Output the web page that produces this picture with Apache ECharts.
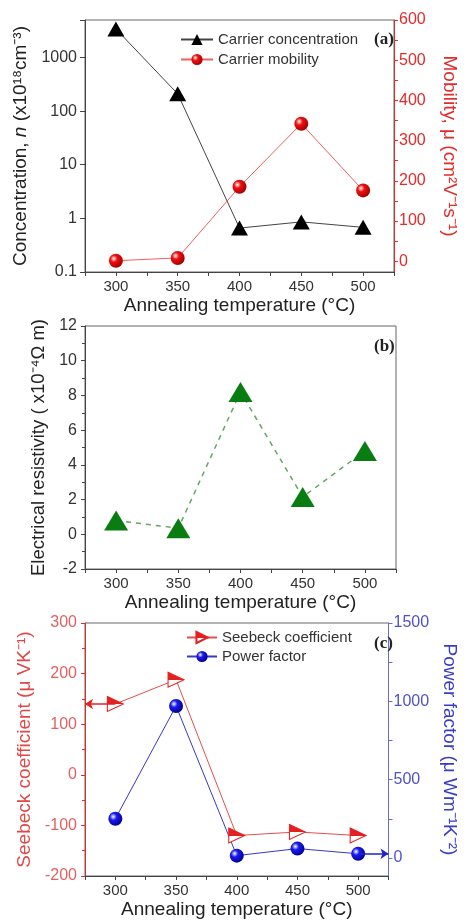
<!DOCTYPE html>
<html>
<head>
<meta charset="utf-8">
<script src="https://cdn.jsdelivr.net/npm/echarts@6/dist/echarts.min.js"></script>
<style>
  body { margin: 0; background: #fff; }
  #chart { width: 467px; height: 920px; }
</style>
</head>
<body>
<div id="chart"></div>
<script>
// annealing temperatures (°C)
var temps = [300, 350, 400, 450, 500];
// (a) carrier concentration (x10^18 cm^-3) and mobility (cm2/Vs)
var concentration = [3400, 210, 0.66, 0.86, 0.68];
var mobility = [1, 8, 185, 342, 176];
// (b) electrical resistivity (x10^-4 ohm m)
var resistivity = [0.8, 0.35, 8.2, 2.15, 4.8];
// (c) seebeck coefficient (uV/K) and power factor (uW/mK2)
var seebeck = [140, 188, -120, -113, -120];
var powerFactor = [250, 970, 15, 60, 27];

var logLabels = [0.1, 1, 10, 100, 1000];
var mobilityLabels = [0, 100, 200, 300, 400, 500, 600];
var pfLabels = [0, 500, 1000, 1500];

function pairs(ys) {
  return temps.map(function (t, i) { return [t, ys[i]]; });
}
function ball(c, dark) {
  return {
    type: 'radial', x: 0.35, y: 0.35, r: 0.7,
    colorStops: [{ offset: 0, color: '#fff' }, { offset: 0.35, color: c }, { offset: 1, color: dark }]
  };
}
function plain(v) { return String(v); }

var font = 'Liberation Sans, Arial, sans-serif';
var grids = [
  { left: 85, top: 20, width: 311, height: 252 },
  { left: 85, top: 326, width: 311, height: 243 },
  { left: 85, top: 623, width: 311, height: 254 }
];
grids.forEach(function (g) { g.show = true; g.borderColor = '#666'; g.borderWidth = 1; });

var xAxes = [0, 1, 2].map(function (i) {
  return {
    type: 'value', gridIndex: i, min: 275, max: 525, interval: 25,
    name: 'Annealing temperature (°C)', nameLocation: 'middle', nameGap: 24,
    nameTextStyle: { fontSize: 19, color: '#222', fontFamily: font },
    axisLine: { onZero: false, lineStyle: { color: '#444' } },
    axisTick: { length: 4, lineStyle: { color: '#444' } },
    splitLine: { show: false },
    axisLabel: {
      fontSize: 15, color: '#333', fontFamily: font, margin: 7,
      formatter: function (v) { return v % 50 === 0 && v >= 300 && v <= 500 ? v : ''; }
    }
  };
});

var red = '#e32b2b';
var blue = '#3b3bc8';

var yAxes = [
  {
    type: 'log', gridIndex: 0, min: 0.1, max: 5000, logBase: 10,
    name: '{a|Concentration, }{i|n}{a| (x10¹⁸cm⁻³)}',
    nameLocation: 'middle', nameGap: 50,
    nameTextStyle: { rich: { a: { fontSize: 19, color: '#222', fontFamily: font }, i: { fontSize: 19, fontStyle: 'italic', color: '#222', fontFamily: font } } },
    axisLine: { show: true, onZero: false, lineStyle: { color: '#444' } },
    axisTick: { show: true, length: 5, lineStyle: { color: '#444' } },
    splitLine: { show: false },
    axisLabel: { customValues: logLabels, fontSize: 16, color: '#333', fontFamily: font, formatter: plain }
  },
  {
    type: 'value', gridIndex: 0, position: 'right', min: -27, max: 600,
    name: 'Mobility, μ (cm²V⁻¹s⁻¹)', nameLocation: 'middle', nameGap: 46, nameRotate: -90,
    nameTextStyle: { fontSize: 19, color: red, fontFamily: font },
    axisLine: { show: true, onZero: false, lineStyle: { color: red } },
    axisTick: { show: true, length: 4, customValues: [0, 50, 100, 150, 200, 250, 300, 350, 400, 450, 500, 550, 600], lineStyle: { color: red } },
    splitLine: { show: false },
    axisLabel: { customValues: mobilityLabels, fontSize: 16, color: red, fontFamily: font, margin: 5, formatter: plain }
  },
  {
    type: 'value', gridIndex: 1, min: -2, max: 12, interval: 2,
    name: 'Electrical resistivity ( x10⁻⁴Ω m)', nameLocation: 'middle', nameGap: 36,
    nameTextStyle: { fontSize: 18.5, color: '#222', fontFamily: font },
    axisLine: { show: true, onZero: false, lineStyle: { color: '#444' } },
    axisTick: { length: 4, lineStyle: { color: '#444' } },
    minorTick: { show: true, splitNumber: 2, length: 3, lineStyle: { color: '#444' } },
    splitLine: { show: false },
    axisLabel: { fontSize: 16, color: '#333', fontFamily: font }
  },
  {
    type: 'value', gridIndex: 2, min: -200, max: 300, interval: 100,
    name: 'Seebeck coefficient (μ VK⁻¹)', nameLocation: 'middle', nameGap: 45,
    nameTextStyle: { fontSize: 19, color: '#e04848', fontFamily: font },
    axisLine: { show: true, onZero: false, lineStyle: { color: red } },
    axisTick: { length: 4, lineStyle: { color: red } },
    minorTick: { show: true, splitNumber: 2, length: 3, lineStyle: { color: red } },
    splitLine: { show: false },
    axisLabel: { fontSize: 16, color: '#e06262', fontFamily: font }
  },
  {
    type: 'value', gridIndex: 2, position: 'right', min: -115, max: 1500,
    name: 'Power factor (μ Wm⁻¹K⁻²)', nameLocation: 'middle', nameGap: 45, nameRotate: -90,
    nameTextStyle: { fontSize: 19, color: blue, fontFamily: font },
    axisLine: { show: true, onZero: false, lineStyle: { color: '#6a6ad8' } },
    axisTick: { show: true, length: 4, customValues: [0, 250, 500, 750, 1000, 1250, 1500], lineStyle: { color: '#6a6ad8' } },
    splitLine: { show: false },
    axisLabel: { customValues: pfLabels, fontSize: 16, color: '#5050cc', fontFamily: font, margin: 5, formatter: plain }
  }
];

var halfTri = {
  type: 'linear', x: 0, y: 0, x2: 0, y2: 1,
  colorStops: [{ offset: 0, color: '#e52020' }, { offset: 0.5, color: '#e52020' }, { offset: 0.5, color: '#fff' }, { offset: 1, color: '#fff' }]
};

var option = {
  animation: false,
  backgroundColor: '#fff',
  grid: grids,
  xAxis: xAxes,
  yAxis: yAxes,
  title: [
    { text: '(a)', left: 369, top: 26, textStyle: { fontFamily: 'Liberation Serif, serif', fontWeight: 'bold', fontSize: 17, color: '#222' } },
    { text: '(b)', left: 369, top: 333, textStyle: { fontFamily: 'Liberation Serif, serif', fontWeight: 'bold', fontSize: 17, color: '#222' } },
    { text: '(c)', left: 369, top: 630, textStyle: { fontFamily: 'Liberation Serif, serif', fontWeight: 'bold', fontSize: 17, color: '#222' } }
  ],
  legend: [
    {
      data: ['Carrier concentration', 'Carrier mobility'], orient: 'vertical', left: 175, top: 27,
      itemWidth: 32, itemHeight: 14, itemGap: 5,
      textStyle: { fontSize: 15, color: '#333', fontFamily: font }
    },
    {
      data: ['Seebeck coefficient', 'Power factor'], orient: 'vertical', left: 181, top: 625,
      itemWidth: 30, itemHeight: 14, itemGap: 4,
      textStyle: { fontSize: 15, color: '#333', fontFamily: font }
    }
  ],
  series: [
    {
      name: 'Carrier concentration', type: 'line', xAxisIndex: 0, yAxisIndex: 0,
      data: pairs(concentration), symbol: 'triangle', symbolSize: [17, 15],
      itemStyle: { color: '#000' }, lineStyle: { color: '#444', width: 1 }
    },
    {
      name: 'Carrier mobility', type: 'line', xAxisIndex: 0, yAxisIndex: 1,
      data: pairs(mobility), symbol: 'circle', symbolSize: 14,
      itemStyle: { color: ball('#f01010', '#a00000') }, lineStyle: { color: '#f06060', width: 1 }
    },
    {
      name: 'Electrical resistivity', type: 'line', xAxisIndex: 1, yAxisIndex: 2,
      data: pairs(resistivity), symbol: 'triangle', symbolSize: [24, 20],
      itemStyle: { color: '#0a7d12' }, lineStyle: { color: '#62a862', width: 1.5, type: [5, 5] }
    },
    {
      name: 'Seebeck coefficient', type: 'line', xAxisIndex: 2, yAxisIndex: 3,
      data: pairs(seebeck), symbol: 'path://M0,0 L10,5 L0,10 Z', symbolSize: [16, 15],
      itemStyle: { color: halfTri, borderColor: '#e52020', borderWidth: 1 },
      lineStyle: { color: '#e05050', width: 1 },
      markLine: {
        silent: true, symbol: ['none', 'arrow'], symbolSize: 8,
        label: { show: false },
        lineStyle: { color: '#e52020', width: 1.5, type: 'solid' },
        data: [[{ coord: [300, seebeck[0]] }, { coord: [275, seebeck[0]] }]]
      }
    },
    {
      name: 'Power factor', type: 'line', xAxisIndex: 2, yAxisIndex: 4,
      data: pairs(powerFactor), symbol: 'circle', symbolSize: 14,
      itemStyle: { color: ball('#1a1af0', '#000090') }, lineStyle: { color: '#3838c8', width: 1 },
      markLine: {
        silent: true, symbol: ['none', 'arrow'], symbolSize: 8,
        label: { show: false },
        lineStyle: { color: '#2020d0', width: 1.5, type: 'solid' },
        data: [[{ coord: [500, powerFactor[4]] }, { coord: [525, powerFactor[4]] }]]
      }
    }
  ]
};

var chart = echarts.init(document.getElementById('chart'));
chart.setOption(option);
</script>
</body>
</html>
